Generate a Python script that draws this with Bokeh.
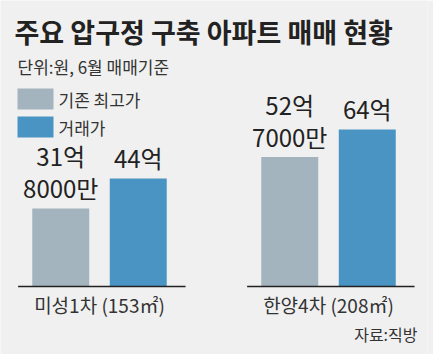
from bokeh.plotting import figure
from bokeh.models import FactorRange, Range1d, ColumnDataSource, Label, BoxAnnotation
from bokeh.core.properties import value
from bokeh.embed import file_html
from bokeh.resources import INLINE

# ---- data ----
groups = ["미성1차 (153㎡)", "한양4차 (208㎡)"]
series = ["기존 최고가", "거래가"]
prev_high = [31.8, 52.7]      # 억 원
deal_price = [44.0, 64.0]     # 억 원
prev_labels = ["31억\n8000만", "52억\n7000만"]
deal_labels = ["44억", "64억"]
title_text = "주요 압구정 구축 아파트 매매 현황"
subtitle_text = "단위:원, 6월 매매기준"
source_text = "자료:직방"

# ---- styles ----
BG = "#f0f0f0"
GRAY = "#a3b4be"
BLUE = "#4a94c3"
DARK = "#222222"
KFONT = "Noto Sans CJK KR"

factors = [(g, s) for g in groups for s in series]
vals = []
labs = []
cols = []
for i in range(len(groups)):
    vals += [prev_high[i], deal_price[i]]
    labs += [prev_labels[i], deal_labels[i]]
    cols += [GRAY, BLUE]

src = ColumnDataSource(dict(x=factors, top=vals, lab=labs, color=cols))

xr = FactorRange(*factors, group_padding=0.954, range_padding=0.277,
                 range_padding_units="absolute")
yr = Range1d(-27.7, 116.5)

p = figure(width=433, height=354, x_range=xr, y_range=yr,
           output_backend="svg", toolbar_location=None,
           min_border_left=0, min_border_right=6, min_border_top=0, min_border_bottom=0)
p.background_fill_color = BG
p.border_fill_color = BG
p.outline_line_color = None
p.xaxis.visible = False
p.yaxis.visible = False
p.grid.visible = False

p.vbar(x="x", top="top", bottom=0, width=0.735, fill_color="color",
       line_color=None, source=src)

# value labels
p.text(x="x", y="top", text="lab", source=src, text_align="center",
       text_baseline="bottom", y_offset=-3, text_font=value(KFONT),
       text_font_size="24px", text_font_style="normal", text_color=DARK,
       text_line_height=0.92)

# baselines per group
base = ColumnDataSource(dict(
    x0=[(g, -1.05) for g in groups],
    x1=[(g, 1.11) for g in groups],
    y=[0, 0]))
p.segment(x0="x0", y0="y", x1="x1", y1="y", source=base,
          line_color=DARK, line_width=1.5)

# category labels
cat = ColumnDataSource(dict(x=groups, y=[0, 0], t=groups))
p.text(x="x", y="y", text="t", source=cat, text_align="center",
       text_baseline="middle", y_offset=18, text_font=value(KFONT),
       text_font_size="19px", text_color="#333333")

H = 354
# title & subtitle
p.add_layout(Label(x=14, y=H - 31, x_units="screen", y_units="screen",
                   text=title_text, text_font=KFONT, text_font_size="27px",
                   text_font_style="bold", text_color=DARK,
                   text_baseline="middle"))
p.add_layout(Label(x=17, y=H - 66, x_units="screen", y_units="screen",
                   text=subtitle_text, text_font=KFONT, text_font_size="17px",
                   text_color="#333333", text_baseline="middle"))

# legend
for i, (name, c) in enumerate(zip(series, [GRAY, BLUE])):
    top_px = 88 + i * 28
    p.add_layout(BoxAnnotation(left=17, right=53, top=H - top_px, bottom=H - top_px - 21,
                               left_units="screen", right_units="screen",
                               top_units="screen", bottom_units="screen",
                               fill_color=c, fill_alpha=1.0, line_color=None))
    p.add_layout(Label(x=58, y=H - top_px - 10.5, x_units="screen", y_units="screen",
                       text=name, text_font=KFONT, text_font_size="17px",
                       text_color="#333333", text_baseline="middle"))

# source
p.add_layout(Label(x=417, y=21, x_units="screen", y_units="screen",
                   text=source_text, text_font=KFONT, text_font_size="16px",
                   text_color="#333333", text_baseline="middle", text_align="right"))

open("out.html", "w").write(file_html(p, INLINE))
